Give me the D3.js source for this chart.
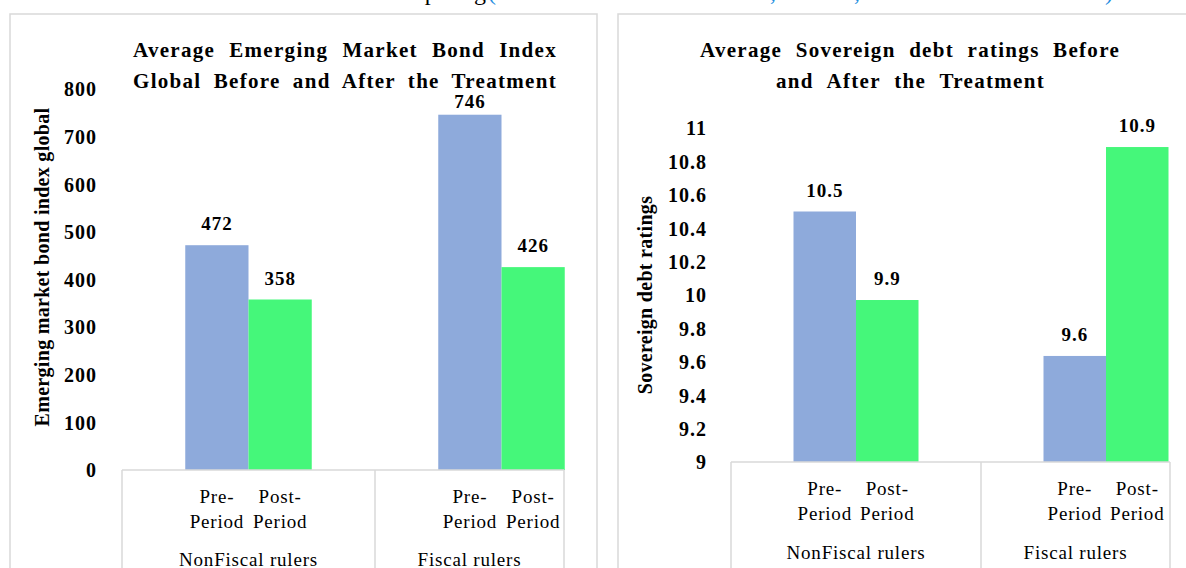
<!DOCTYPE html>
<html>
<head>
<meta charset="utf-8">
<script src="https://cdn.jsdelivr.net/npm/d3@7"></script>
<style>
  body { margin: 0; background: #fff; }
  text { font-family: "Liberation Serif", "DejaVu Serif", serif; fill: #000; }
</style>
</head>
<body>
<div id="chart"></div>
<script>
// data
var groups = ["NonFiscal rulers", "Fiscal rulers"];
var periods = ["Pre-Period", "Post-Period"];
var periodLines = [["Pre-", "Period"], ["Post-", "Period"]];

var embiValues = [[472, 358], [746, 426]];
var embiLabels = [["472", "358"], ["746", "426"]];
var embiTicks = [0, 100, 200, 300, 400, 500, 600, 700, 800];

var ratingValues = [[10.5, 9.97], [9.635, 10.886]];
var ratingLabels = [["10.5", "9.9"], ["9.6", "10.9"]];
var ratingTicks = [9, 9.2, 9.4, 9.6, 9.8, 10, 10.2, 10.4, 10.6, 10.8, 11];

var colors = ["#8eaadb", "#45f77a"];
var lineColor = "#d9d9d9";

var svg = d3.select("#chart").append("svg")
  .attr("width", 1186)
  .attr("height", 568);

// bits of the caption line above, cut off by the crop (only descenders show)
svg.append("text")
  .attr("x", 486).attr("y", 0)
  .attr("text-anchor", "end")
  .style("font-size", "24px")
  .text("Comparing");
var cap = svg.append("text")
  .attr("y", 0)
  .style("font-size", "24px")
  .style("fill", "#1f8ee0");
cap.append("tspan").attr("x", 488).text("(Source");
cap.append("tspan").attr("x", 770).text(",");
cap.append("tspan").attr("x", 854).text(",");
cap.append("tspan").attr("x", 1105).text(")");

// spread words of a line so that it fills width w
function justify(sel, w) {
  sel.style("word-spacing", "0px");
  var natural = sel.node().getComputedTextLength();
  var spaces = (sel.text().match(/ /g) || []).length;
  if (spaces > 0 && natural < w) sel.style("word-spacing", ((w - natural) / spaces) + "px");
}

function drawPanel(cfg) {
  var g = svg.append("g");

  // panel frame
  g.append("rect")
    .attr("x", cfg.box[0]).attr("y", cfg.box[1])
    .attr("width", cfg.box[2]).attr("height", cfg.box[3])
    .attr("fill", "#fff")
    .attr("stroke", lineColor)
    .attr("stroke-width", 1.5);

  var y = d3.scaleLinear()
    .domain(cfg.domain)
    .range([cfg.base, cfg.top]);

  var x = d3.scaleBand()
    .domain(groups)
    .range([cfg.x0, cfg.x0 + cfg.step * groups.length])
    .paddingInner(0.5)
    .paddingOuter(0.25);

  var xi = d3.scaleBand()
    .domain(periods)
    .range([0, x.bandwidth()]);

  // y axis labels only
  var yAxis = g.append("g")
    .attr("transform", "translate(" + cfg.tickX + ",0)")
    .call(d3.axisLeft(y).tickValues(cfg.ticks).tickSize(0).tickPadding(0)
      .tickFormat(function (d) { return String(+d.toFixed(1)); }));
  yAxis.select(".domain").remove();
  yAxis.selectAll("text")
    .style("font-family", "'Liberation Serif', serif")
    .style("font-size", "20px")
    .style("font-weight", "bold")
    .style("letter-spacing", "1px")
    .attr("dy", "0.34em");

  // title
  cfg.title.forEach(function (t, i) {
    var tx = g.append("text")
      .attr("x", t.x)
      .attr("y", cfg.titleY[i])
      .style("font-size", "21px")
      .style("font-weight", "bold")
      .style("letter-spacing", "1.3px")
      .text(t.text);
    justify(tx, t.w);
  });

  // y axis title
  g.append("text")
    .attr("transform", "translate(" + cfg.yTitle[0] + "," + cfg.yTitle[1] + ")rotate(-90)")
    .attr("text-anchor", "middle")
    .attr("dy", "0.35em")
    .style("font-size", "20px")
    .style("font-weight", "bold")
    .style("letter-spacing", "0.3px")
    .text(cfg.yTitleText);

  // bars
  var grp = g.selectAll(".grp")
    .data(groups)
    .enter().append("g")
    .attr("transform", function (d) { return "translate(" + x(d) + ",0)"; });

  grp.selectAll("rect")
    .data(function (d, i) { return cfg.values[i].map(function (v, j) { return { v: v, p: periods[j], j: j }; }); })
    .enter().append("rect")
    .attr("x", function (d) { return xi(d.p); })
    .attr("y", function (d) { return y(d.v); })
    .attr("width", xi.bandwidth())
    .attr("height", function (d) { return cfg.base - y(d.v); })
    .attr("fill", function (d) { return colors[d.j]; });

  grp.selectAll(".lab")
    .data(function (d, i) { return cfg.values[i].map(function (v, j) { return { v: v, p: periods[j], lab: cfg.labels[i][j] }; }); })
    .enter().append("text")
    .attr("x", function (d) { return xi(d.p) + xi.bandwidth() / 2; })
    .attr("y", function (d) { return Math.max(y(d.v) - 15, cfg.labelMinY); })
    .attr("text-anchor", "middle")
    .style("font-size", "19px")
    .style("font-weight", "bold")
    .style("letter-spacing", "1px")
    .text(function (d) { return d.lab; });

  // category table lines
  var step = x.step();
  g.append("line")
    .attr("x1", cfg.x0).attr("x2", cfg.clipRight)
    .attr("y1", cfg.base).attr("y2", cfg.base)
    .attr("stroke", lineColor).attr("stroke-width", 1.5);
  var vx = [cfg.x0];
  groups.forEach(function (d, i) { if (i > 0) vx.push(cfg.x0 + i * step); });
  vx.push(cfg.clipRight);
  g.selectAll(".vline")
    .data(vx)
    .enter().append("line")
    .attr("x1", function (d) { return d; }).attr("x2", function (d) { return d; })
    .attr("y1", cfg.base).attr("y2", 600)
    .attr("stroke", lineColor).attr("stroke-width", 1.5);

  // inner labels
  grp.each(function () {
    var gg = d3.select(this);
    periods.forEach(function (p, j) {
      periodLines[j].forEach(function (line, k) {
        gg.append("text")
          .attr("x", xi(p) + xi.bandwidth() / 2)
          .attr("y", cfg.catY[k])
          .attr("text-anchor", "middle")
          .style("font-size", "19px")
          .style("letter-spacing", "0.8px")
          .text(line);
      });
    });
  });

  // outer labels, centred on the visible part of each group
  groups.forEach(function (d, i) {
    var a = Math.max(cfg.x0 + i * step, cfg.x0);
    var b = Math.min(cfg.x0 + (i + 1) * step, cfg.clipRight);
    g.append("text")
      .attr("x", (a + b) / 2)
      .attr("y", cfg.catY[2])
      .attr("text-anchor", "middle")
      .style("font-size", "19px")
      .style("letter-spacing", "0.8px")
      .text(d);
  });
}

drawPanel({
  box: [10, 14, 587, 600],
  domain: [0, 800], base: 470, top: 89,
  x0: 122, step: 253, clipRight: 564,
  ticks: embiTicks, tickX: 97,
  values: embiValues, labels: embiLabels, labelMinY: 108,
  title: [
    { text: "Average Emerging Market Bond Index", x: 133, w: 424 },
    { text: "Global Before and After the Treatment", x: 133, w: 424 }
  ],
  titleY: [57, 88],
  yTitle: [42, 267], yTitleText: "Emerging market bond index global",
  catY: [503, 528, 566]
});

drawPanel({
  box: [618, 14, 620, 600],
  domain: [9, 11], base: 462, top: 128,
  x0: 731, step: 250, clipRight: 1170,
  ticks: ratingTicks, tickX: 707,
  values: ratingValues, labels: ratingLabels, labelMinY: 0,
  title: [
    { text: "Average Sovereign debt ratings Before", x: 700, w: 420 },
    { text: "and After the Treatment", x: 776, w: 269 }
  ],
  titleY: [57, 88],
  yTitle: [645, 295], yTitleText: "Sovereign debt ratings",
  catY: [495, 520, 559]
});
</script>
</body>
</html>
